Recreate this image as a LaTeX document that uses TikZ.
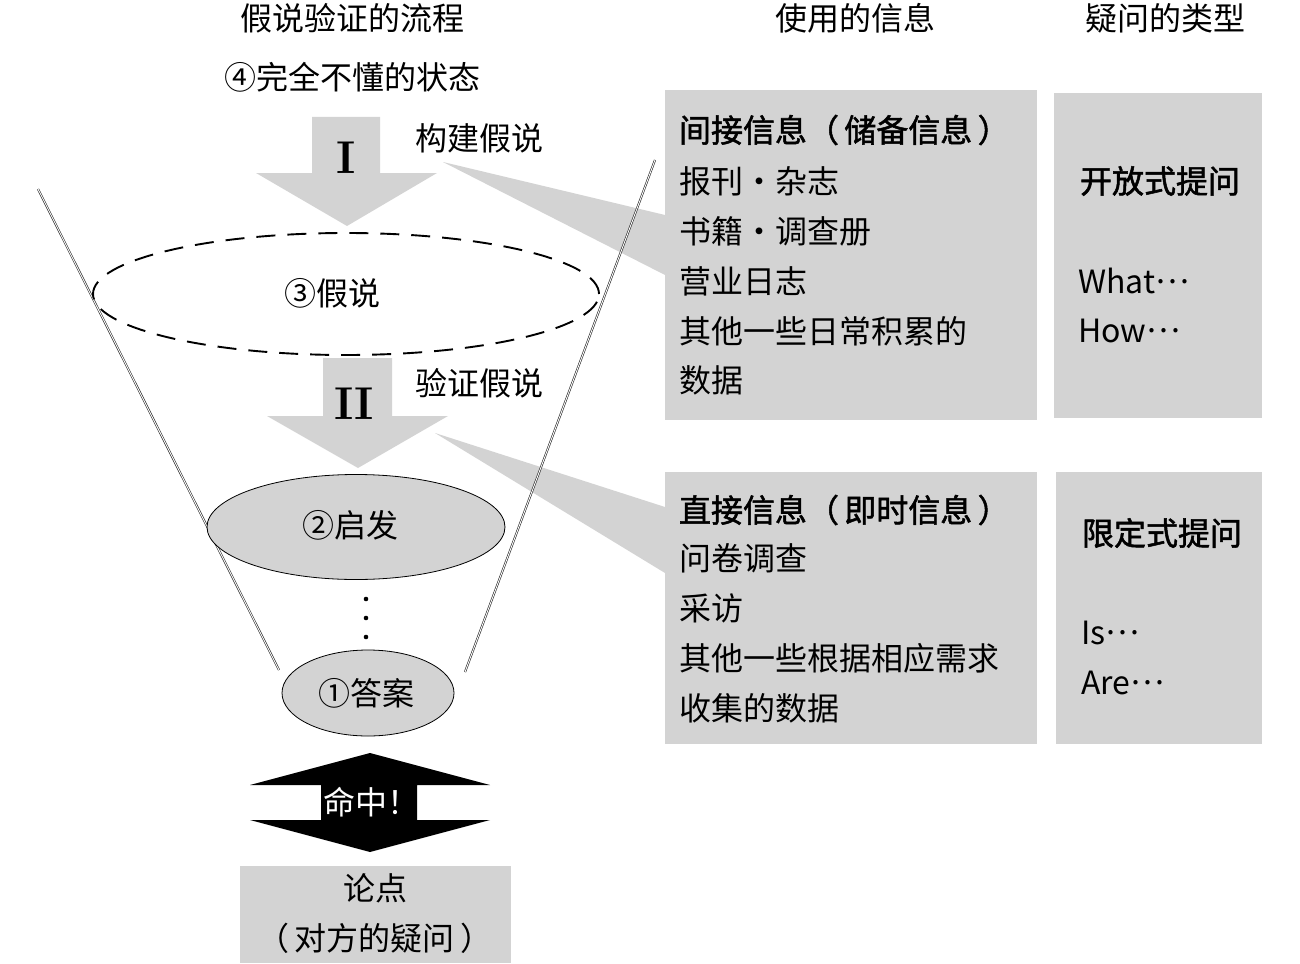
\documentclass[tikz,border=0pt]{standalone}
\usepackage{fontspec}
\newfontfamily\cjk{Noto Sans CJK SC}
\newfontfamily\cjkb{Noto Sans CJK SC}[FakeBold=1.6]
\newcommand\middots{\raisebox{0.3em}{…}}
\usetikzlibrary{shapes.geometric}
\definecolor{boxgray}{RGB}{211,211,211}
\begin{document}
\begin{tikzpicture}[x=1pt,y=-1pt,
  every node/.style={inner sep=0pt, outer sep=0pt},
  txt/.style={font=\cjk\fontsize{32}{32}\selectfont},
  bold/.style={font=\cjkb\fontsize{32}{32}\selectfont},
  roman/.style={font=\bfseries\fontsize{46}{46}\selectfont},
  infobox/.style={fill=boxgray, draw=none},
  wedge/.style={fill=boxgray, draw=none},
  funnel/.style={draw=black!85, line width=0.6pt, double=white, double distance=0.9pt},
  bigarrow/.style={fill=boxgray, draw=none},
  oval/.style={ellipse, draw=black, line width=0.8pt, fill=boxgray},
  dashoval/.style={ellipse, draw=black, line width=1.9pt, dash pattern=on 19pt off 12pt},
]
\useasboundingbox (0,0) rectangle (1300,963);

% boxes
\node[infobox, minimum width=372, minimum height=330] (box1) at (851,255) {};
\node[infobox, minimum width=208, minimum height=325] (box3) at (1158,255.5) {};
\node[infobox, minimum width=372, minimum height=272] (box2) at (851,608) {};
\node[infobox, minimum width=206, minimum height=272] (box4) at (1159,608) {};
\node[infobox, minimum width=271, minimum height=97] (issue) at (375.5,914.5) {};

% wedges (callouts)
\coordinate (w1tip) at (443,162);
\coordinate (w2tip) at (435,433);
\fill[wedge] (w1tip) -- ([shift={(0,125)}]box1.north west) -- ([shift={(0,185)}]box1.north west) -- cycle;
\fill[wedge] (w2tip) -- ([shift={(0,35)}]box2.north west) -- ([shift={(0,101)}]box2.north west) -- cycle;

% funnel
\coordinate (fl1) at (38,189);
\coordinate (fl2) at (279,670);
\coordinate (fr1) at (655,160);
\coordinate (fr2) at (465,672);
\draw[funnel] (fl1) -- (fl2);
\draw[funnel] (fr1) -- (fr2);

% headers
\node[txt] (h1) at (352,18) {假说验证的流程};
\node[txt] (h2) at (855,18) {使用的信息};
\node[txt] (h3) at (1165,18) {疑问的类型};
\node[txt] (s4) at (352,77) {④完全不懂的状态};

% arrow I
\fill[bigarrow] (312,117) -- (380,117) -- (380,173) -- (437,173) -- (347,226) -- (256,173) -- (312,173) -- cycle;
\node[roman] (labI) at (346,158) {I};
\node[txt] (build) at (479,138) {构建假说};

% hypothesis ellipse
\node[dashoval, minimum width=506, minimum height=122] (hyp) at (346,294) {};
\node[txt] (hyptxt) at (332,293) {③假说};

% arrow II
\fill[bigarrow] (323,358) -- (392,358) -- (392,416) -- (448,416) -- (358,468) -- (267,416) -- (323,416) -- cycle;
\node[roman] (labII) at (354,404) {II};
\node[txt] (verify) at (479,383) {验证假说};

% inspiration
\node[oval, minimum width=298, minimum height=105] (insp) at (356,527) {};
\node[txt] (insptxt) at (350,525) {②启发};

% dots
\fill (366,599) circle (2.3);
\fill (366,618) circle (2.3);
\fill (366,637) circle (2.3);

% answer
\node[oval, minimum width=172, minimum height=86] (ans) at (368,693) {};
\node[txt] (anstxt) at (366,693) {①答案};

% hit double arrow
\fill[black] (370,753) -- (490,785) -- (417,785) -- (417,820) -- (490,820) -- (370,852) -- (250,820) -- (321,820) -- (321,785) -- (250,785) -- cycle;
\node[txt, text=white] (hit) at (371,802) {命中！};

% issue box text
\node[txt] (iss1) at (375,888) {论点};
\node[txt] (iss2) at (375,938) {（\,对方的疑问\,）};

% box1 text
\node[bold, anchor=west] (b1a) at (679,130) {间接信息（\,储备信息\,）};
\node[txt, anchor=west] (b1b) at (679,181) {报刊・杂志};
\node[txt, anchor=west] (b1c) at (679,231) {书籍・调查册};
\node[txt, anchor=west] (b1d) at (679,281) {营业日志};
\node[txt, anchor=west] (b1e) at (679,331) {其他一些日常积累的};
\node[txt, anchor=west] (b1f) at (679,380) {数据};

% box3 text
\node[bold] (b3a) at (1160,181) {开放式提问};
\node[txt, anchor=west] (b3b) at (1078,281) {What\middots};
\node[txt, anchor=west] (b3c) at (1078,331) {How\middots};

% box2 text
\node[bold, anchor=west] (b2a) at (679,510) {直接信息（\,即时信息\,）};
\node[txt, anchor=west] (b2b) at (679,558) {问卷调查};
\node[txt, anchor=west] (b2c) at (679,608) {采访};
\node[txt, anchor=west] (b2d) at (679,658) {其他一些根据相应需求};
\node[txt, anchor=west] (b2e) at (679,708) {收集的数据};

% box4 text
\node[bold] (b4a) at (1162,533) {限定式提问};
\node[txt, anchor=west] (b4b) at (1081,633) {Is\middots};
\node[txt, anchor=west] (b4c) at (1081,683) {Are\middots};
\end{tikzpicture}
\end{document}
